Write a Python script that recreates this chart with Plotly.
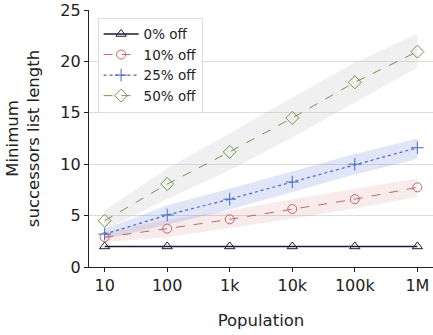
import plotly.graph_objects as go

populations = ["10", "100", "1k", "10k", "100k", "1M"]
labels = ["0% off", "10% off", "25% off", "50% off"]

y0 = [2, 2, 2, 2, 2, 2]
y10 = [2.9, 3.73, 4.64, 5.64, 6.6, 7.75]
y25 = [3.2, 5.06, 6.6, 8.27, 10.0, 11.6]
y50 = [4.5, 8.07, 11.2, 14.5, 17.97, 20.95]

lo10 = [2.4, 2.9, 3.8, 4.7, 5.7, 6.8]
hi10 = [3.4, 4.6, 5.5, 6.6, 7.6, 8.6]
lo25 = [2.7, 4.1, 5.6, 7.3, 9.0, 10.5]
hi25 = [3.7, 6.0, 7.6, 9.3, 11.0, 12.5]
lo50 = [3.6, 6.6, 9.4, 12.6, 16.0, 19.4]
hi50 = [5.5, 9.6, 13.0, 16.5, 19.9, 22.7]

xs = list(range(len(populations)))

fig = go.Figure()

bands = [
    (lo50, hi50, "rgba(200,200,200,0.27)"),
    (lo25, hi25, "rgba(100,130,220,0.2)"),
    (lo10, hi10, "rgba(200,120,120,0.15)"),
]
for lo, hi, col in bands:
    fig.add_trace(go.Scatter(x=xs + xs[::-1], y=hi + lo[::-1], fill="toself",
                             fillcolor=col, line=dict(width=0), mode="lines",
                             showlegend=False, hoverinfo="skip"))

series = [
    (y0, labels[0], "#1c1a33", "solid", 1.6, "triangle-up-open", 9),
    (y10, labels[1], "#c0686a", "dash", 1.0, "circle-open", 9),
    (y25, labels[2], "#4a66c8", "dot", 1.2, "cross-thin-open", 9),
    (y50, labels[3], "#7d9150", "dash", 1.0, "diamond-open", 10),
]
for ys, name, col, dash, w, sym, sz in series:
    fig.add_trace(go.Scatter(x=xs, y=ys, name=name, mode="lines+markers",
                             line=dict(color=col, dash=dash, width=w),
                             marker=dict(symbol=sym, size=sz, color=col,
                                         line=dict(width=1, color=col))))

fig.update_layout(
    width=433, height=335,
    margin=dict(l=89, r=0, t=10, b=68),
    plot_bgcolor="white", paper_bgcolor="white",
    font=dict(family="DejaVu Sans", size=16, color="#222"),
    showlegend=True,
    legend=dict(x=0.025, y=0.97, xanchor="left", yanchor="top",
                bgcolor="rgba(255,255,255,0.85)", bordercolor="#dddddd",
                borderwidth=1, font=dict(size=13.5), tracegroupgap=0,
                itemwidth=35),
    xaxis=dict(range=[-0.25, 5.25], tickmode="array", tickvals=xs,
               ticktext=populations, showgrid=False, showline=True,
               linecolor="#222", linewidth=1.2, ticks="outside", ticklen=4,
               tickcolor="#222", zeroline=False, tickfont=dict(size=16),
               title=dict(text="Population", standoff=20, font=dict(size=16.5))),
    yaxis=dict(range=[0, 25], tickvals=[0, 5, 10, 15, 20, 25],
               showgrid=True, gridcolor="#dcdcdc", gridwidth=1,
               showline=True, linecolor="#222", linewidth=1.2,
               ticks="outside", ticklen=4, tickcolor="#222", zeroline=False,
               tickfont=dict(size=16),
               title=dict(text="Minimum<br>successors list length", standoff=16,
                          font=dict(size=16.5))),
)

fig.write_html("out.html")
